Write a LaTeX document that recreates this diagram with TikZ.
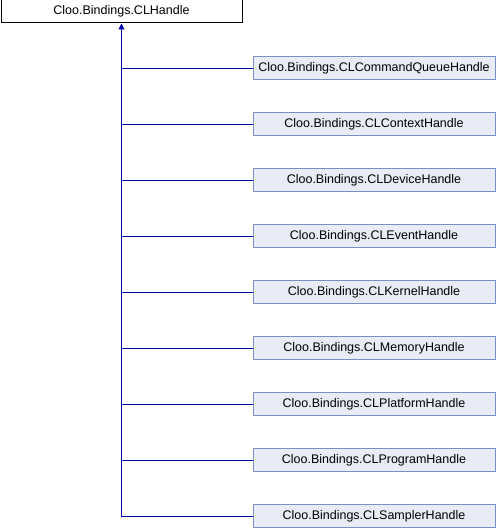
\documentclass[tikz,border=0pt]{standalone}
\usepackage{fontspec}
\setmainfont{Liberation Sans}
\usetikzlibrary{arrows.meta,positioning}
\definecolor{edgeblue}{HTML}{0000A8}
\definecolor{classfill}{HTML}{E8ECF6}
\definecolor{classdraw}{HTML}{7A8FC6}
\tikzstyle{base} = [draw=black, fill=white, line width=1pt, minimum width=241pt, minimum height=23pt, inner sep=0pt, font=\fontsize{12.5}{14}\selectfont]
\tikzstyle{derived} = [base, draw=classdraw, fill=classfill, minimum width=242pt]
\tikzstyle{inherit} = [draw=edgeblue, line width=1pt]

\begin{document}
\begin{tikzpicture}[x=1pt, y=1pt]
        \useasboundingbox (0,0) rectangle (496,528);
        \node[base] (clhandle) at (121.5,516.5) {Cloo.Bindings.CLHandle};
        \foreach \name/\txt [count=\i from 0] in {commandqueue/CLCommandQueueHandle, context/CLContextHandle, device/CLDeviceHandle, event/CLEventHandle, kernel/CLKernelHandle, memory/CLMemoryHandle, platform/CLPlatformHandle, program/CLProgramHandle, sampler/CLSamplerHandle} {
            \node[derived] (\name) at (374,459.5-56*\i) {Cloo.Bindings.\txt};
        }
        \draw[inherit, -{Triangle[length=6pt, width=6pt]}] (sampler.west) -| (clhandle.south);
        \foreach \name in {commandqueue, context, device, event, kernel, memory, platform, program} {
            \draw[inherit] (\name.west) -- (\name.west -| clhandle.south);
        }

    \end{tikzpicture}
\end{document}
